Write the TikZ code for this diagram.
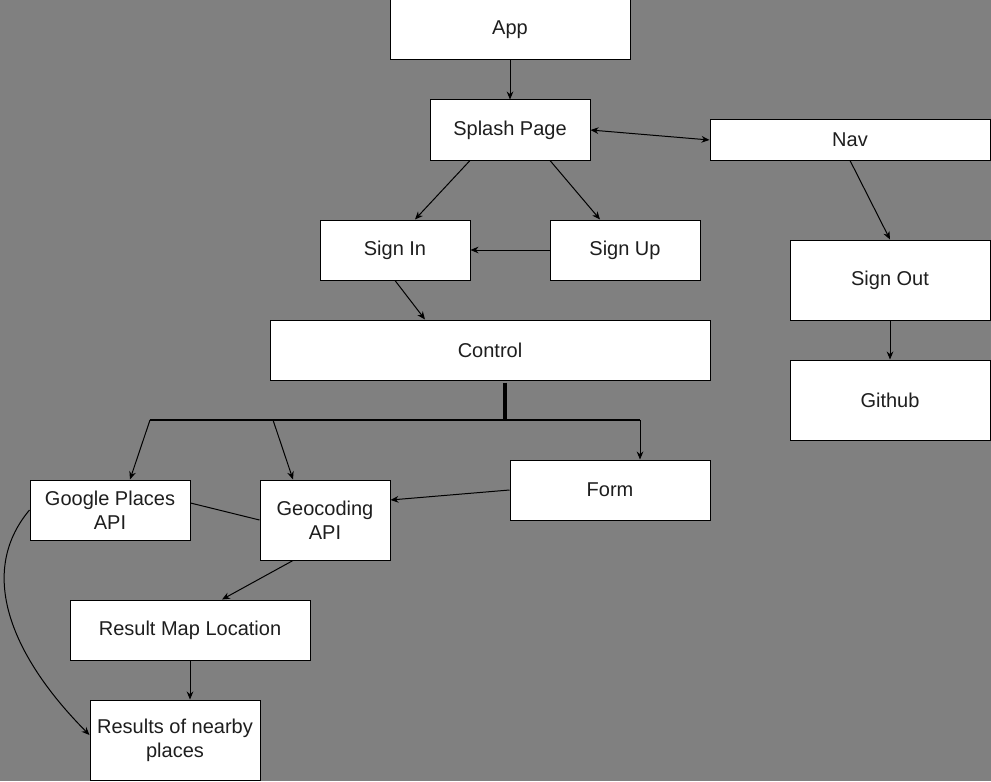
\documentclass[tikz,border=0pt]{standalone}
\usepackage{fontspec}
\setmainfont{Liberation Sans}
\usetikzlibrary{arrows.meta,calc}
\definecolor{bggray}{RGB}{128,128,128}
\definecolor{txtdark}{RGB}{30,30,30}
\tikzset{
  pagebox/.style={draw=black, fill=white, line width=0.75pt, inner sep=0pt, align=center,
    text=txtdark, font=\fontsize{15}{18}\selectfont},
  link/.style={-{Stealth[length=6pt,width=5pt]}, line width=0.75pt, black}
}
\begin{document}
\begin{tikzpicture}[x=0.75pt, y=-0.75pt]
  %% canvas
  \fill[bggray] (0,0) rectangle (991,781);
  \useasboundingbox (0,0) rectangle (991,781);

  %% Pages
  \node[pagebox, minimum width=180pt, minimum height=45pt]   (app)     at (510,30)  {App};
  \node[pagebox, minimum width=120pt, minimum height=45pt]   (splash)  at (510,130) {Splash Page};
  \node[pagebox, minimum width=210pt, minimum height=30pt]   (nav)     at (850,140) {Nav};
  \node[pagebox, minimum width=112.5pt, minimum height=45pt] (signin)  at (395,250) {Sign In};
  \node[pagebox, minimum width=112.5pt, minimum height=45pt] (signup)  at (625,250) {Sign Up};
  \node[pagebox, minimum width=150pt, minimum height=60pt]   (signout) at (890,280) {Sign Out};
  \node[pagebox, minimum width=150pt, minimum height=60pt]   (github)  at (890,400) {Github};
  \node[pagebox, minimum width=330pt, minimum height=45pt]   (control) at (490,350) {Control};

  %% APIs and results
  \node[pagebox, minimum width=120pt, minimum height=45pt]   (places)  at (110,510) {Google Places\\API};
  \node[pagebox, minimum width=97.5pt, minimum height=60pt]  (geo)     at (325,520) {Geocoding\\API};
  \node[pagebox, minimum width=150pt, minimum height=45pt]   (form)    at (610,490) {Form};
  \node[pagebox, minimum width=180pt, minimum height=45pt]   (resmap)  at (190,630) {Result Map Location};
  \node[pagebox, minimum width=127.5pt, minimum height=60pt] (nearby)  at (175,740) {Results of nearby\\places};

  %% bus under control
  \coordinate (bus)  at (505,420);
  \coordinate (busL) at (150,420);
  \coordinate (busR) at (640,420);
  \coordinate (busM) at (273,420);

  \draw[link] (app.south) -- (splash.north);
  \draw[{Stealth[length=6pt,width=5pt]}-{Stealth[length=6pt,width=5pt]}, line width=0.75pt] (splash.east) -- (nav.west);
  \draw[link] ($(splash.south)+(-40,0)$) -- ($(signin.north)+(20,0)$);
  \draw[link] ($(splash.south)+(40,0)$) -- ($(signup.north)+(-25,0)$);
  \draw[link] (signup.west) -- (signin.east);
  \draw[link] (nav.south) -- (signout.north);
  \draw[link] (signout.south) -- (github.north);
  \draw[link] (signin.south) -- ($(control.north)+(-65,0)$);

  \draw[line width=3pt] ($(control.south)+(15,2)$) -- (bus);
  \draw[line width=1.5pt] (busL) -- (busR);
  \draw[link] (busL) -- ($(places.north)+(20,0)$);
  \draw[link] (busM) -- ($(geo.north)+(-32,0)$);
  \draw[link] (busR) -- ($(form.north)+(30,0)$);

  \draw[link] (form.west) -- ($(geo.east)+(0,-20)$);
  \draw[line width=0.75pt] ($(places.east)+(0,-7)$) -- (geo.west);
  \draw[link] ($(geo.south)+(-32,0)$) -- ($(resmap.north)+(32,0)$);
  \draw[link] (resmap.south) -- ($(nearby.north)+(15,0)$);
  \draw[link] (places.west) .. controls (-25,575) and (15,660) .. ($(nearby.west)+(0,-5)$);
\end{tikzpicture}
\end{document}
